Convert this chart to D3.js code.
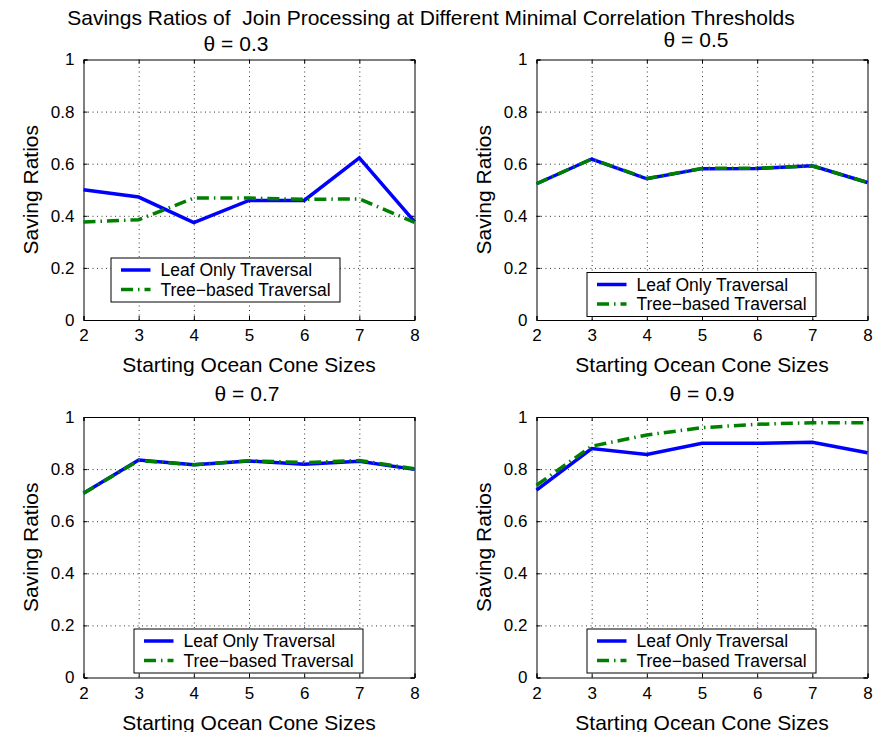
<!DOCTYPE html>
<html>
<head>
<meta charset="utf-8">
<script src="https://cdn.jsdelivr.net/npm/d3@7"></script>
<style>
  body { margin: 0; background: #fff; }
  svg { font-family: "Liberation Sans", Arial, sans-serif; }
  .grid line { stroke: #000; stroke-dasharray: 1,3.5; stroke-width: 0.8; }
  .tick text { font-size: 17px; fill: #000; }
  .label { font-size: 21px; fill: #000; }
</style>
</head>
<body>
<svg width="873" height="732"></svg>
<script>
// data
var sizes = [2, 3, 4, 5, 6, 7, 8];
var thetas = ["θ = 0.3", "θ = 0.5", "θ = 0.7", "θ = 0.9"];
var seriesNames = ["Leaf Only Traversal", "Tree\u2212based Traversal"];
var yTicks = [0, 0.2, 0.4, 0.6, 0.8, 1];

var leaf03 = [0.500, 0.472, 0.374, 0.459, 0.459, 0.622, 0.378];
var tree03 = [0.376, 0.385, 0.468, 0.468, 0.463, 0.465, 0.375];
var leaf05 = [0.523, 0.618, 0.542, 0.581, 0.582, 0.592, 0.528];
var tree05 = [0.523, 0.618, 0.543, 0.582, 0.583, 0.591, 0.528];
var leaf07 = [0.707, 0.835, 0.817, 0.831, 0.819, 0.830, 0.799];
var tree07 = [0.707, 0.833, 0.817, 0.832, 0.825, 0.833, 0.801];
var leaf09 = [0.719, 0.879, 0.856, 0.899, 0.899, 0.903, 0.863];
var tree09 = [0.738, 0.888, 0.931, 0.959, 0.972, 0.978, 0.978];

// layout
var plotW = 331, plotH = 260.5;
var panels = [
  { left: 83.5,  top: 59.5, title: thetas[0], leaf: leaf03, tree: tree03, tdx: -13, tdy: -8.5, lx: 27.5, ly: 198.5 },
  { left: 536.5, top: 59.5, title: thetas[1], leaf: leaf05, tree: tree05, tdx: -6,  tdy: -13,  lx: 50.5, ly: 213 },
  { left: 83.5,  top: 417,  title: thetas[2], leaf: leaf07, tree: tree07, tdx: -2,  tdy: -16,  lx: 50.5, ly: 212 },
  { left: 536.5, top: 417,  title: thetas[3], leaf: leaf09, tree: tree09, tdx: 0,   tdy: -16,  lx: 50.5, ly: 212 }
];

var svg = d3.select("svg");

svg.append("text")
  .classed("label", true)
  .attr("x", 431)
  .attr("y", 25)
  .attr("text-anchor", "middle")
  .style("white-space", "pre")
  .text("Savings Ratios of  Join Processing at Different Minimal Correlation Thresholds");

var xScale = d3.scaleLinear().domain([2, 8]).range([0, plotW]);
var yScale = d3.scaleLinear().domain([0, 1]).range([plotH, 0]);

var line = d3.line()
  .x((d, i) => xScale(sizes[i]))
  .y(d => yScale(d));

panels.forEach(function(p) {
  var g = svg.append("g")
    .attr("transform", "translate(" + p.left + "," + p.top + ")");

  // dotted grid
  g.append("g")
    .classed("grid", true)
    .attr("transform", "translate(0," + plotH + ")")
    .call(d3.axisBottom(xScale).tickValues(sizes.slice(1, -1)).tickSize(-plotH).tickFormat(""))
    .call(s => s.select(".domain").remove());
  g.append("g")
    .classed("grid", true)
    .call(d3.axisLeft(yScale).tickValues(yTicks.slice(1, -1)).tickSize(-plotW).tickFormat(""))
    .call(s => s.select(".domain").remove());

  // axes with inward ticks
  g.append("g")
    .attr("transform", "translate(0," + plotH + ")")
    .call(d3.axisBottom(xScale).tickValues(sizes).tickSize(-4).tickPadding(9).tickFormat(d3.format("d")));
  g.append("g")
    .call(d3.axisLeft(yScale).tickValues(yTicks).tickSize(-4).tickPadding(9).tickFormat(d3.format("")));
  g.append("g")
    .call(d3.axisTop(xScale).tickValues(sizes).tickSize(-4).tickFormat(""));
  g.append("g")
    .attr("transform", "translate(" + plotW + ",0)")
    .call(d3.axisRight(yScale).tickValues(yTicks).tickSize(-4).tickFormat(""));
  g.selectAll(".domain").attr("stroke", "#000");
  g.selectAll(".tick line").filter(function() { return !this.closest(".grid"); }).attr("stroke", "#000");

  // series
  g.append("path")
    .datum(p.leaf)
    .attr("d", line)
    .attr("fill", "none")
    .attr("stroke", "#0000ff")
    .attr("stroke-width", 3.5);
  g.append("path")
    .datum(p.tree)
    .attr("d", line)
    .attr("fill", "none")
    .attr("stroke", "#008000")
    .attr("stroke-width", 3.5)
    .attr("stroke-dasharray", "12,5,1.5,5");

  // titles and labels
  g.append("text")
    .classed("label", true)
    .attr("x", plotW / 2 + p.tdx)
    .attr("y", p.tdy)
    .attr("text-anchor", "middle")
    .text(p.title);
  g.append("text")
    .classed("label", true)
    .attr("x", plotW / 2)
    .attr("y", plotH + 52)
    .attr("text-anchor", "middle")
    .text("Starting Ocean Cone Sizes");
  g.append("text")
    .classed("label", true)
    .attr("transform", "translate(-46," + (plotH / 2) + ") rotate(-90)")
    .attr("text-anchor", "middle")
    .text("Saving Ratios");

  // legend
  var lg = g.append("g")
    .attr("transform", "translate(" + p.lx + "," + p.ly + ")");
  lg.append("rect")
    .attr("width", 229)
    .attr("height", 44)
    .attr("fill", "#fff")
    .attr("stroke", "#000");
  var styles = [
    { color: "#0000ff", dash: null },
    { color: "#008000", dash: "12,5,1.5,5" }
  ];
  seriesNames.forEach(function(name, i) {
    var cy = 12 + i * 19.5;
    lg.append("line")
      .attr("x1", 10).attr("x2", 39.5)
      .attr("y1", cy).attr("y2", cy)
      .attr("stroke", styles[i].color)
      .attr("stroke-width", 3.5)
      .attr("stroke-dasharray", styles[i].dash);
    lg.append("text")
      .attr("x", 49.5)
      .attr("y", cy)
      .attr("dy", "0.35em")
      .style("font-size", "17.5px")
      .text(name);
  });
});
</script>
</body>
</html>
